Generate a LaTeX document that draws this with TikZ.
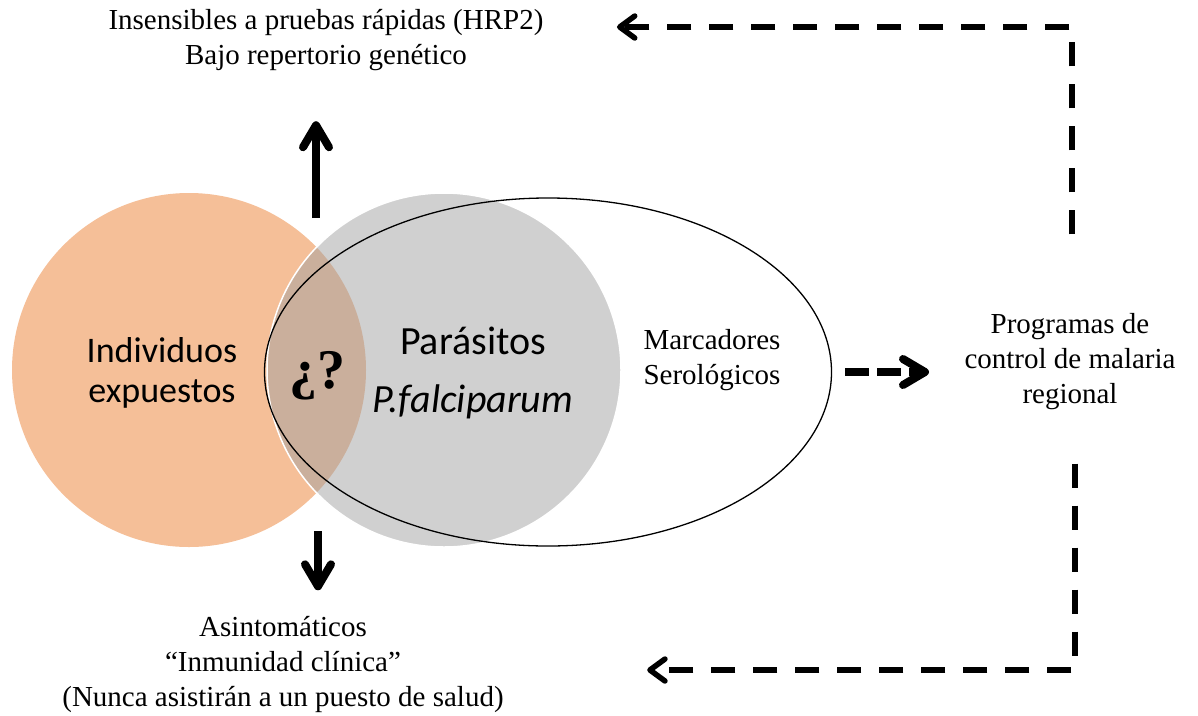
\documentclass[tikz,border=0pt]{standalone}
\usepackage{fontspec}
\setmainfont{Liberation Serif}
\newfontfamily\calibri{Carlito}
\usetikzlibrary{arrows.meta,shapes.geometric,positioning}
\definecolor{expuesto}{RGB}{245,191,152}
\definecolor{parasito}{RGB}{161,161,161}

\begin{document}
\begin{tikzpicture}[x=1pt,y=-1pt,
  serif/.style={align=center,font=\fontsize{29}{35}\selectfont},
  sans/.style={align=center,font=\calibri\fontsize{36}{40}\selectfont},
  gruesa/.style={line width=8pt,-{Straight Barb[length=22pt,width=26pt,round]}},
  punteada/.style={line width=8pt,dash pattern=on 24pt off 8pt,-{Straight Barb[length=22pt,width=26pt,round]}},
  lazo/.style={line width=5.5pt,dash pattern=on 24pt off 18pt,-{Straight Barb[length=15pt,width=22pt,round]}}]
\useasboundingbox (0,0) rectangle (1198,715);

% conjuntos
\node[circle,fill=expuesto,minimum size=354pt,inner sep=0] (expo) at (189,370) {};
\node[circle,fill=parasito,fill opacity=0.5,draw=white,line width=1.5pt,minimum size=354pt,inner sep=0] (para) at (444,370) {};
\node[ellipse,draw,line width=1.3pt,minimum width=567pt,minimum height=348pt,inner sep=0] (sero) at (548,372) {};

% textos
\node[sans] (indiv) at (162,373) {Individuos\\expuestos};
\node[sans,font=\calibri\fontsize{40}{40}\selectfont] (paras) at (473,373) {Parásitos\\[18pt]\textit{P.falciparum}};
\node[font=\bfseries\fontsize{56}{56}\selectfont] (duda) at (317,376) {¿?};
\node[serif] (marc) at (712,360) {Marcadores\\Serológicos};
\node[serif] (prog) at (1070,362) {Programas de\\control de malaria\\regional};
\node[serif] (arriba) at (326,40) {Insensibles a pruebas rápidas (HRP2)\\Bajo repertorio genético};
\node[serif] (abajo) at (283,664) {Asintomáticos\\“Inmunidad clínica”\\(Nunca asistirán a un puesto de salud)};

% flechas
\coordinate (pieA) at (316,218);
\coordinate (pieB) at (318,531);
\draw[gruesa] (pieA) -- (pieA |- arriba.south) [shorten >=47pt];
\draw[gruesa] (pieB) -- (pieB |- abajo.north) [shorten >=22pt];
\draw[punteada,shorten <=13pt,shorten >=32pt] (sero.east) -- (sero.east -| prog.west);
\draw[lazo,shorten <=76pt,shorten >=70pt] (prog.north -| 1072,0) |- ([yshift=13pt]arriba.east);
\draw[lazo,shorten <=50pt,shorten >=140pt] (prog.south -| 1075,0) |- ([yshift=-6pt]abajo.east);
\end{tikzpicture}
\end{document}
